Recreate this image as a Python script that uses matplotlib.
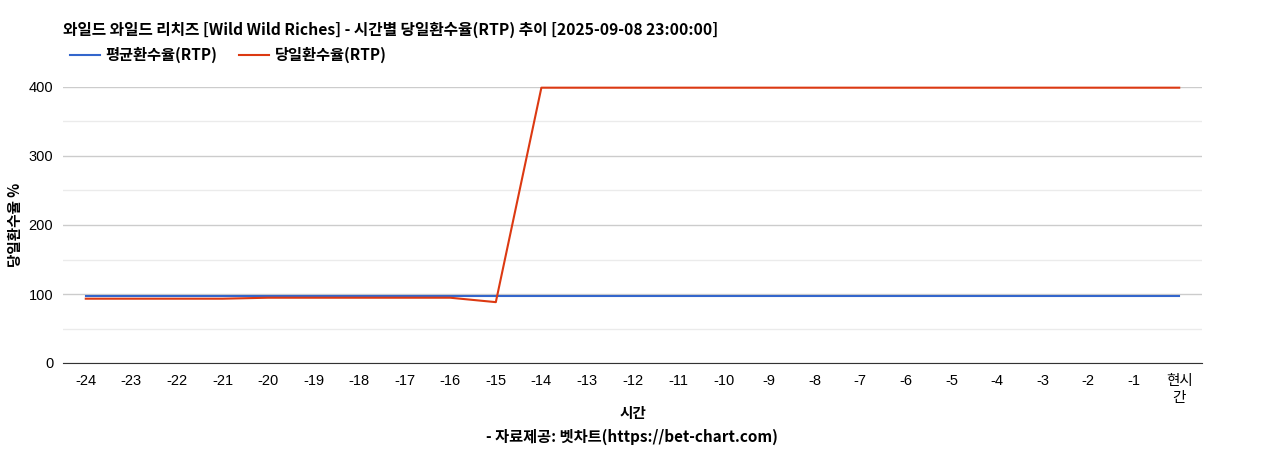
import matplotlib
matplotlib.use('Agg')
import matplotlib.pyplot as plt

plt.rcParams['font.family'] = ['Noto Sans CJK KR', 'DejaVu Sans']

hours = ['-24', '-23', '-22', '-21', '-20', '-19', '-18', '-17', '-16', '-15', '-14', '-13',
         '-12', '-11', '-10', '-9', '-8', '-7', '-6', '-5', '-4', '-3', '-2', '-1', '현시\n간']
avg_rtp = [96.4] * 25
day_rtp = [93.2, 93.2, 93.2, 93.2, 94.6, 94.6, 94.6, 94.6, 94.6, 88.2, 399, 399,
           399, 399, 399, 399, 399, 399, 399, 399, 399, 399, 399, 399, 399]

tick_font = ['Liberation Sans', 'Noto Sans CJK KR']

fig = plt.figure(figsize=(12.65, 4.5), dpi=100)
ax = fig.add_axes([63 / 1265, 1 - 363 / 450, (1202 - 63) / 1265, (363 - 87) / 450])

x = range(len(hours))
ax.plot(x, avg_rtp, color='#3366cc', lw=1.5, label='평균환수율(RTP)', clip_on=False, zorder=3)
ax.plot(x, day_rtp, color='#dc3912', lw=1.5, label='당일환수율(RTP)', clip_on=False, zorder=4)

ax.set_xlim(-0.5, len(hours) - 0.5)
ax.set_ylim(0, 400)
ax.set_yticks([0, 100, 200, 300, 400])
ax.set_yticks([50, 150, 250, 350], minor=True)
ax.grid(axis='y', which='major', color='#cccccc', lw=1)
ax.grid(axis='y', which='minor', color='#ebebeb', lw=1)
ax.set_axisbelow(True)
ax.set_xticks(list(x))
ax.set_xticklabels(hours, fontsize=10.5, linespacing=1.3, family=tick_font)
for lbl in ax.get_yticklabels():
    lbl.set_family(tick_font)
    lbl.set_fontsize(10.5)
ax.tick_params(axis='y', which='both', length=0, pad=7)
ax.tick_params(axis='x', length=0, pad=8)
for s in ['top', 'right', 'left']:
    ax.spines[s].set_visible(False)
ax.spines['bottom'].set_color('#333333')

ax.set_ylabel('당일환수율 %', fontsize=10.5, fontweight='bold', va='center')
ax.yaxis.set_label_coords((15 - 63) / 1139, 0.5)
ax.set_xlabel('시간', fontsize=10.5, fontweight='bold', va='center')
ax.xaxis.set_label_coords(0.5, (363 - 413) / 276)
fig.text(632 / 1265, 1 - 437 / 450,
         '- 자료제공: 벳차트(https://bet-chart.com)', ha='center', va='center',
         fontsize=11, fontweight='bold')

fig.text(63 / 1265, 1 - 30 / 450,
         '와일드 와일드 리치즈 [Wild Wild Riches] - 시간별 당일환수율(RTP) 추이 [2025-09-08 23:00:00]',
         ha='left', va='center', fontsize=11.3, fontweight='bold')
fig.legend(loc='center left', bbox_to_anchor=(56 / 1265, 1 - 55 / 450), ncol=2, frameon=False,
           prop={'size': 11, 'weight': 'bold'}, handlelength=2.0, columnspacing=1.4,
           handletextpad=0.35)

fig.savefig('out.png', dpi=100)
